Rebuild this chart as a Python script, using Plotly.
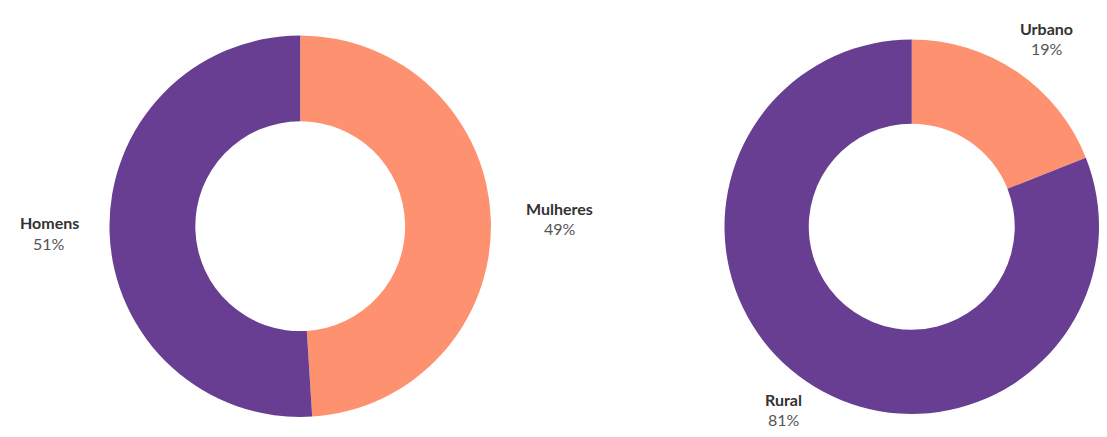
import plotly.graph_objects as go

W, H = 1107, 437

# Data
gender_labels = ["Mulheres", "Homens"]
gender_values = [49, 51]
area_labels = ["Urbano", "Rural"]
area_values = [19, 81]

SALMON = "#fd9170"
PURPLE = "#673e91"
colors = [SALMON, PURPLE]

def px_domain(x0, x1, cy, r):
    return dict(x=[max(0, x0 / W), min(1, x1 / W)], y=[1 - (cy + r) / H, 1 - (cy - r) / H])

fig = go.Figure()
fig.add_trace(go.Pie(
    labels=gender_labels, values=gender_values, hole=0.55, sort=False,
    direction="clockwise", rotation=0, marker=dict(colors=colors, line=dict(width=0)),
    textinfo="none", hoverinfo="label+percent", showlegend=False,
    domain=px_domain(296.5 - 198, 296.5 + 198, 226.5, 198),
))
fig.add_trace(go.Pie(
    labels=area_labels, values=area_values, hole=0.55, sort=False,
    direction="clockwise", rotation=0, marker=dict(colors=colors, line=dict(width=0)),
    textinfo="none", hoverinfo="label+percent", showlegend=False,
    domain=px_domain(W - 380, W, 227, 197),
))

# label anchor positions (pixels, centre of the name line)
label_pos = {
    "Mulheres": (560, 208),
    "Homens": (42, 223),
    "Urbano": (1054, 21),
    "Rural": (787, 406),
}

annotations = []
for labels, values in ((gender_labels, gender_values), (area_labels, area_values)):
    for lab, val in zip(labels, values):
        x, y = label_pos[lab]
        annotations.append(dict(
            x=x / W, y=1 - y / H, xref="paper", yref="paper", showarrow=False,
            text=f"<b>{lab}</b>", font=dict(family="Lato", size=16, color="#333333"),
            xanchor="center", yanchor="middle",
        ))
        annotations.append(dict(
            x=x / W, y=1 - (y + 21) / H, xref="paper", yref="paper", showarrow=False,
            text=f"{val}%", font=dict(family="Lato", size=16, color="#555555"),
            xanchor="center", yanchor="middle",
        ))

fig.update_layout(
    margin=dict(l=0, r=0, t=0, b=0),
    paper_bgcolor="white", plot_bgcolor="white",
    annotations=annotations,
    font=dict(family="Lato"),
)

fig.write_html("out.html")
